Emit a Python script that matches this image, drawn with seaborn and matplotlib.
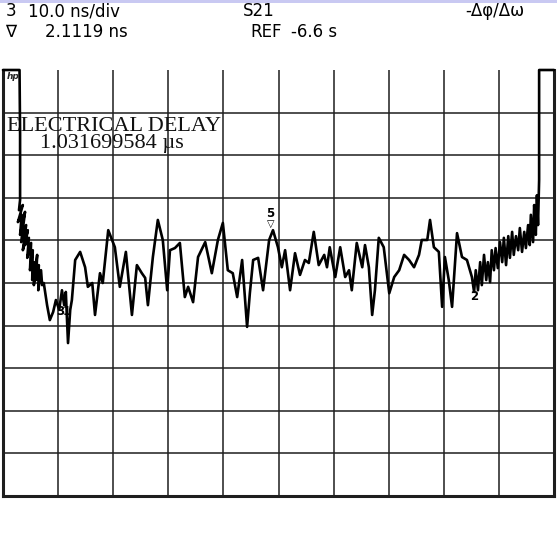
import matplotlib
matplotlib.use("Agg")
import matplotlib.pyplot as plt
import seaborn as sns
import pandas as pd
from matplotlib.patches import Rectangle

sns.set_theme(style="white")
plt.rcParams['font.family'] = ['DejaVu Sans']

# Group delay trace: horizontal position in divisions (0..10),
# delay in ns on a 10 ns/div screen (0..100, values clamp at the top edge)
trace_x = [
    0.00, 0.30, 0.31, 0.31,
    0.29, 0.36, 0.27, 0.34, 0.31, 0.40, 0.33, 0.42, 0.36, 0.45, 0.40, 0.47,
    0.44, 0.51, 0.49, 0.54, 0.53, 0.58, 0.56, 0.62, 0.60, 0.65, 0.64, 0.69,
    0.71, 0.74, 0.80, 0.85,
    0.91, 0.96, 1.02, 1.07, 1.11, 1.14, 1.18, 1.22, 1.25, 1.31, 1.40, 1.49,
    1.54, 1.62, 1.67, 1.76, 1.81, 1.91, 2.03, 2.12, 2.23, 2.34, 2.43, 2.52,
    2.58, 2.63, 2.72, 2.81, 2.90, 2.98, 3.03, 3.12, 3.21, 3.30, 3.36, 3.45,
    3.54, 3.67, 3.79, 3.90, 3.99, 4.08, 4.17, 4.25, 4.34, 4.43, 4.48, 4.54,
    4.63, 4.72, 4.83, 4.90, 4.99, 5.06, 5.12, 5.21, 5.30, 5.39, 5.48, 5.55,
    5.64, 5.73, 5.83, 5.88, 5.93, 6.03, 6.12, 6.21, 6.28, 6.33, 6.42, 6.52,
    6.57, 6.64, 6.70, 6.75, 6.82, 6.91, 7.01, 7.10, 7.19, 7.28, 7.37, 7.46,
    7.55, 7.60, 7.70, 7.75, 7.82, 7.91, 7.97, 8.02, 8.09, 8.15, 8.24, 8.33,
    8.42,
    8.51, 8.55, 8.58, 8.62, 8.66, 8.69, 8.73, 8.77, 8.80, 8.84, 8.87, 8.91,
    8.94, 8.98, 9.02, 9.06, 9.09, 9.13, 9.17, 9.20, 9.24, 9.27, 9.31, 9.35,
    9.38, 9.42, 9.46, 9.49, 9.53, 9.56, 9.58, 9.62, 9.64, 9.67, 9.69, 9.71,
    9.73, 9.73, 10.00,
]
trace_ns = [
    100.0, 100.0, 85.0, 69.5,
    67.1, 68.3, 64.3, 66.0, 61.3, 66.7, 59.6, 63.6, 57.7, 62.4, 58.9, 60.6,
    55.9, 59.4, 53.0, 57.7, 50.7, 54.9, 49.5, 56.6, 50.7, 54.2, 48.3, 53.0,
    49.5, 50.0, 44.8, 41.3,
    43.2, 46.0, 43.7, 48.3, 44.8, 47.9, 35.9, 43.7, 46.0, 55.4, 57.3, 53.7,
    49.1, 50.0, 42.5, 52.3, 50.0, 62.4, 58.4, 49.1, 57.3, 42.5, 54.2, 52.3,
    51.2, 44.8, 56.1, 64.8, 60.1, 48.3, 57.7, 58.2, 59.4, 46.7, 49.1, 45.5,
    56.1, 59.6, 52.3, 60.1, 64.1, 53.0, 52.3, 46.7, 55.4, 39.7, 47.6, 55.4,
    55.9, 48.3, 60.1, 62.4, 58.4, 53.7, 57.7, 48.3, 57.0, 51.9, 55.4, 54.7,
    62.0, 54.2, 56.6, 53.7, 58.4, 51.4, 58.4, 51.4, 53.0, 48.3, 59.4, 53.7,
    58.9, 53.7, 42.5, 48.3, 60.6, 58.4, 47.6, 51.4, 53.0, 56.6, 55.4, 53.7,
    56.6, 60.1, 60.1, 64.8, 58.4, 57.3, 44.4, 56.1, 50.7, 44.4, 61.7, 56.1,
    55.4,
    51.4, 47.9, 53.0, 48.3, 54.9, 49.5, 56.6, 50.7, 54.9, 50.2, 57.7, 53.0,
    58.2, 53.5, 59.6, 54.9, 60.6, 54.2, 61.0, 55.9, 62.0, 56.6, 61.0, 57.7,
    62.9, 57.3, 62.0, 58.2, 63.6, 58.9, 66.0, 59.6, 68.3, 61.3, 70.6, 63.6,
    74.2, 100.0, 100.0,
]

# Marker labels: (label, position in divisions, delay in ns)
marker_labels = ["5", "2", "3", "1"]
marker_x = [4.85, 8.55, 1.03, 1.15]
marker_ns = [66.4, 46.9, 43.2, 43.2]

header_line1 = ["3", "10.0 ns/div", "S21", "-\u0394\u03c6/\u0394\u03c9"]
header_line2 = ["\u2207", "2.1119 ns", "REF", "-6.6 s"]
delay_title = "ELECTRICAL DELAY"
delay_value = "1.031699584 \u00b5s"

W, H = 557, 534
fig = plt.figure(figsize=(W / 100, H / 100), dpi=100)
fig.patch.set_facecolor("white")

# thin lavender band along the top edge
fig.add_artist(Rectangle((0, 1 - 3 / H), 1, 3 / H, transform=fig.transFigure,
                         facecolor="#c9c9f2", edgecolor="none"))

ax = fig.add_axes([3 / W, (H - 496) / H, 551 / W, 426 / H])
ax.set_facecolor("white")

df = pd.DataFrame({"div": trace_x, "delay": trace_ns})
sns.lineplot(data=df, x="div", y="delay", sort=False, estimator=None,
             color="black", linewidth=1.9, ax=ax, clip_on=False, zorder=3)

ax.set_xlim(0, 10)
ax.set_ylim(0, 100)
ax.set_xticks(range(0, 11))
ax.set_yticks(range(0, 100, 10))
ax.grid(True, color="#1e1e1e", linewidth=1.1)
ax.tick_params(length=0, labelbottom=False, labelleft=False)
ax.set_xlabel("")
ax.set_ylabel("")
for side in ["left", "bottom", "right"]:
    ax.spines[side].set_visible(True)
    ax.spines[side].set_color("#1e1e1e")
    ax.spines[side].set_linewidth(2.2)
ax.spines["top"].set_visible(False)

# marker annotations
for lab, mx, my in zip(marker_labels, marker_x, marker_ns):
    ax.text(mx, my, lab, fontsize=8.5, fontweight="bold", ha="center",
            va="center", color="black", zorder=4)
ax.text(marker_x[0], marker_ns[0] - 2.6, "\u25bd", fontsize=7, ha="center",
        va="center", color="black", zorder=4)

# instrument logo
ax.text(0.006, 0.996, "hp", transform=ax.transAxes, fontsize=6.5,
        fontweight="bold", fontstyle="italic", ha="left", va="top",
        zorder=5)

# electrical delay readout
ax.text(0.007, 0.857, delay_title, transform=ax.transAxes,
        family=["Liberation Serif", "DejaVu Serif"], fontsize=16,
        ha="left", va="baseline", color="#111111", zorder=4)
ax.text(0.067, 0.817, delay_value, transform=ax.transAxes,
        family=["Liberation Serif", "DejaVu Serif"], fontsize=16,
        ha="left", va="baseline", color="#111111", zorder=4)

# header readout
xs1 = [6, 28, 243, 465]
xs2 = [5, 45, 250, 291]
for txt, x in zip(header_line1, xs1):
    fig.text(x / W, 1 - 11 / H, txt, fontsize=12, ha="left", va="center",
             color="black")
for txt, x in zip(header_line2, xs2):
    fig.text(x / W, 1 - 32 / H, txt, fontsize=12, ha="left", va="center",
             color="black")

fig.savefig("out.png", dpi=100, facecolor="white")
